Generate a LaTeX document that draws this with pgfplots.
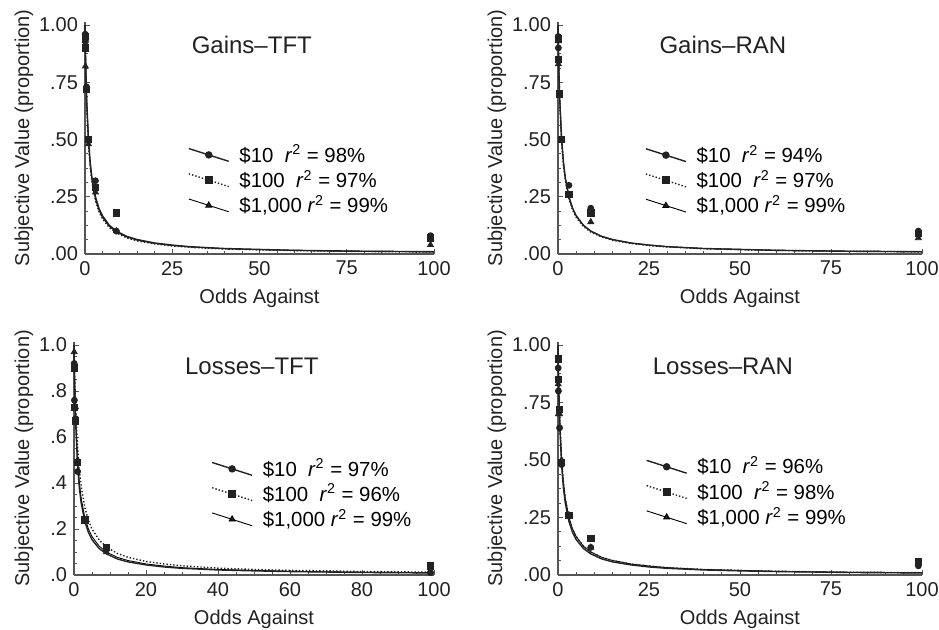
\documentclass[border=0pt]{standalone}
\usepackage{pgfplots}
\pgfplotsset{compat=1.18}
\usepackage{pgfplotstable}
\usepackage{fontspec}
\setmainfont{Liberation Sans}

\definecolor{ink}{HTML}{222222}
\definecolor{axisgray}{HTML}{555555}
\definecolor{thin}{HTML}{707070}

% fitted hyperbolic curves (a..e = flatter .. steeper)
\pgfplotstableread{
x     e      a      b      d      c
0     1      1      1      1      1
0.05  0.962  0.957  0.952  0.950  0.948
0.1   0.926  0.917  0.909  0.905  0.901
0.25  0.833  0.816  0.800  0.792  0.784
0.5   0.714  0.690  0.667  0.656  0.645
1     0.556  0.526  0.500  0.488  0.476
1.5   0.455  0.426  0.400  0.388  0.377
2     0.385  0.357  0.333  0.323  0.313
3     0.294  0.270  0.250  0.241  0.233
4     0.238  0.217  0.200  0.192  0.185
5     0.200  0.182  0.167  0.160  0.154
7     0.152  0.137  0.125  0.120  0.115
9     0.122  0.110  0.100  0.096  0.092
12    0.094  0.085  0.077  0.074  0.070
15    0.077  0.069  0.063  0.060  0.057
20    0.059  0.053  0.048  0.046  0.044
25    0.048  0.043  0.039  0.037  0.035
30    0.040  0.036  0.032  0.031  0.029
40    0.030  0.027  0.024  0.023  0.022
50    0.024  0.022  0.020  0.019  0.018
60    0.020  0.018  0.016  0.016  0.015
70    0.018  0.016  0.014  0.013  0.013
80    0.015  0.014  0.012  0.012  0.011
90    0.014  0.012  0.011  0.011  0.010
100   0.012  0.011  0.010  0.009  0.009
}\curves

\tikzset{
  s10/.style={ink, line width=0.7pt, solid},
  s100/.style={ink, line width=0.7pt, densely dotted},
  s1000/.style={thin, line width=0.45pt, solid},
  m10/.style={only marks, mark=*, mark size=1.5pt, ink, mark options={solid, fill=ink}},
  m100/.style={only marks, mark=square*, mark size=1.6pt, ink, mark options={solid, fill=ink}},
  m1000/.style={only marks, mark=triangle*, mark size=1.7pt, ink, mark options={solid, fill=ink}},
}

\pgfplotsset{
  panel/.style={
    scale only axis, axis lines=left,
    axis line style={axisgray, line width=0.6pt, -},
    xmin=0, xmax=100, ymin=0, ymax=1.015,
    tick style={axisgray, line width=0.4pt},
    major tick length=2.5pt, minor tick length=1.5pt, tick align=inside,
    xlabel={Odds Against}, ylabel={Subjective Value (proportion)},
    ylabel shift=-4pt,
    tick label style={font=\fontsize{10}{12}\selectfont, text=ink},
    label style={font=\fontsize{10}{12}\selectfont, text=ink},
    legend cell align=left,
    legend style={draw=none, fill=none, anchor=north west,
      font=\fontsize{10.2}{11}\selectfont, row sep=-1.5pt,
      /tikz/every odd column/.append style={column sep=3pt}},
    legend image code/.code={
      \draw[mark repeat=2, mark phase=2, #1]
        plot coordinates {(0pt,3.2pt) (10pt,0pt) (20pt,-3.2pt)};
    },
    clip=false,
  },
}

\begin{document}
\begin{tikzpicture}
\useasboundingbox (0,0) rectangle (469.5pt,314.5pt);

% ---------------- Gains-TFT ----------------
\begin{axis}[panel, at={(42.5pt,187.5pt)}, anchor=south west,
  width=174.5pt, height=116.2pt,
  xtick={0,25,50,75,100}, xticklabels={0,25,50,75,100}, minor x tick num=4,
  ytick={0,0.25,0.5,0.75,1}, yticklabels={.00,.25,.50,.75,1.00}, minor y tick num=3,
  legend style={at={(rel axis cs:0.277,0.506)}}]
\addlegendimage{s10, mark=*, mark size=1.5pt, mark options={solid, fill=ink}}
\addlegendentry{\$10\ \ \textit{r}\textsuperscript{2} = 98\%}
\addlegendimage{s100, mark=square*, mark size=1.6pt, mark options={solid, fill=ink}}
\addlegendentry{\$100\ \ \textit{r}\textsuperscript{2} = 97\%}
\addlegendimage{s1000, mark=triangle*, mark size=1.7pt, mark options={solid, fill=ink}}
\addlegendentry{\$1,000 \textit{r}\textsuperscript{2} = 99\%}
\addplot[s1000, forget plot] table[x=x, y=d] {\curves};
\addplot[s100, forget plot] table[x=x, y=c] {\curves};
\addplot[s10, forget plot] table[x=x, y=b] {\curves};
\addplot[m10, forget plot] coordinates {(0.053,0.96) (0.11,0.93) (0.43,0.73) (1,0.50) (3,0.32) (9,0.10) (99,0.08)};
\addplot[m100, forget plot] coordinates {(0.053,0.95) (0.11,0.90) (0.43,0.72) (1,0.50) (3,0.29) (9,0.18) (99,0.07)};
\addplot[m1000, forget plot] coordinates {(0.053,0.93) (0.11,0.82) (0.43,0.73) (1,0.48) (3,0.27) (9,0.10) (99,0.04)};
\node[font=\fontsize{12}{14}\selectfont, text=ink] at (rel axis cs:0.478,0.898) {Gains–TFT};
\end{axis}

% ---------------- Gains-RAN ----------------
\begin{axis}[panel, at={(279pt,187.5pt)}, anchor=south west,
  width=182pt, height=116.2pt,
  xtick={0,25,50,75,100}, xticklabels={0,25,50,75,100}, minor x tick num=4,
  ytick={0,0.25,0.5,0.75,1}, yticklabels={.00,.25,.50,.75,1.00}, minor y tick num=3,
  legend style={at={(rel axis cs:0.222,0.505)}}]
\addlegendimage{s10, mark=*, mark size=1.5pt, mark options={solid, fill=ink}}
\addlegendentry{\$10\ \ \textit{r}\textsuperscript{2} = 94\%}
\addlegendimage{s100, mark=square*, mark size=1.6pt, mark options={solid, fill=ink}}
\addlegendentry{\$100\ \ \textit{r}\textsuperscript{2} = 97\%}
\addlegendimage{s1000, mark=triangle*, mark size=1.7pt, mark options={solid, fill=ink}}
\addlegendentry{\$1,000 \textit{r}\textsuperscript{2} = 99\%}
\addplot[s1000, forget plot] table[x=x, y=b] {\curves};
\addplot[s100, forget plot] table[x=x, y=d] {\curves};
\addplot[s10, forget plot] table[x=x, y=b] {\curves};
\addplot[m10, forget plot] coordinates {(0.053,0.95) (0.11,0.90) (0.43,0.70) (1,0.50) (3,0.30) (9,0.20) (99,0.10)};
\addplot[m100, forget plot] coordinates {(0.053,0.94) (0.11,0.85) (0.43,0.70) (1,0.50) (3,0.26) (9,0.18) (99,0.09)};
\addplot[m1000, forget plot] coordinates {(0.053,0.93) (0.11,0.83) (0.43,0.70) (1,0.50) (3,0.26) (9,0.14) (99,0.07)};
\node[font=\fontsize{12}{14}\selectfont, text=ink] at (rel axis cs:0.453,0.898) {Gains–RAN};
\end{axis}

% ---------------- Losses-TFT ----------------
\begin{axis}[panel, at={(37pt,27pt)}, anchor=south west,
  width=180pt, height=116.7pt,
  xtick={0,20,40,60,80,100}, xticklabels={0,20,40,60,80,100}, minor x tick num=3,
  ytick={0,0.2,0.4,0.6,0.8,1}, yticklabels={.0,.2,.4,.6,.8,1.0}, minor y tick num=3,
  legend style={at={(rel axis cs:0.364,0.534)}}]
\addlegendimage{s10, mark=*, mark size=1.5pt, mark options={solid, fill=ink}}
\addlegendentry{\$10\ \ \textit{r}\textsuperscript{2} = 97\%}
\addlegendimage{s100, mark=square*, mark size=1.6pt, mark options={solid, fill=ink}}
\addlegendentry{\$100\ \ \textit{r}\textsuperscript{2} = 96\%}
\addlegendimage{s1000, mark=triangle*, mark size=1.7pt, mark options={solid, fill=ink}}
\addlegendentry{\$1,000 \textit{r}\textsuperscript{2} = 99\%}
\addplot[s1000, forget plot] table[x=x, y=b] {\curves};
\addplot[s100, forget plot] table[x=x, y=e] {\curves};
\addplot[s10, forget plot] table[x=x, y=c] {\curves};
\addplot[m10, forget plot] coordinates {(0.053,0.92) (0.11,0.76) (0.43,0.68) (1,0.45) (3,0.24) (9,0.11) (99,0.01)};
\addplot[m100, forget plot] coordinates {(0.053,0.90) (0.11,0.73) (0.43,0.67) (1,0.49) (3,0.24) (9,0.12) (99,0.04)};
\addplot[m1000, forget plot] coordinates {(0.053,0.97) (0.11,0.92) (0.43,0.73) (1,0.50) (3,0.24) (9,0.10) (99,0.02)};
\node[font=\fontsize{12}{14}\selectfont, text=ink] at (rel axis cs:0.494,0.895) {Losses–TFT};
\end{axis}

% ---------------- Losses-RAN ----------------
\begin{axis}[panel, at={(279pt,27pt)}, anchor=south west,
  width=182pt, height=116.7pt,
  xtick={0,25,50,75,100}, xticklabels={0,25,50,75,100}, minor x tick num=4,
  ytick={0,0.25,0.5,0.75,1}, yticklabels={.00,.25,.50,.75,1.00}, minor y tick num=3,
  legend style={at={(rel axis cs:0.224,0.543)}}]
\addlegendimage{s10, mark=*, mark size=1.5pt, mark options={solid, fill=ink}}
\addlegendentry{\$10\ \ \textit{r}\textsuperscript{2} = 96\%}
\addlegendimage{s100, mark=square*, mark size=1.6pt, mark options={solid, fill=ink}}
\addlegendentry{\$100\ \ \textit{r}\textsuperscript{2} = 98\%}
\addlegendimage{s1000, mark=triangle*, mark size=1.7pt, mark options={solid, fill=ink}}
\addlegendentry{\$1,000 \textit{r}\textsuperscript{2} = 99\%}
\addplot[s1000, forget plot] table[x=x, y=b] {\curves};
\addplot[s100, forget plot] table[x=x, y=b] {\curves};
\addplot[s10, forget plot] table[x=x, y=c] {\curves};
\addplot[m10, forget plot] coordinates {(0.053,0.90) (0.11,0.80) (0.43,0.64) (1,0.48) (3,0.26) (9,0.12) (99,0.04)};
\addplot[m100, forget plot] coordinates {(0.053,0.94) (0.11,0.85) (0.43,0.72) (1,0.49) (3,0.26) (9,0.16) (99,0.06)};
\addplot[m1000, forget plot] coordinates {(0.053,0.83) (0.11,0.70) (0.43,0.70) (1,0.50) (3,0.26) (9,0.12) (99,0.05)};
\node[font=\fontsize{12}{14}\selectfont, text=ink] at (rel axis cs:0.453,0.895) {Losses–RAN};
\end{axis}
\end{tikzpicture}
\end{document}
